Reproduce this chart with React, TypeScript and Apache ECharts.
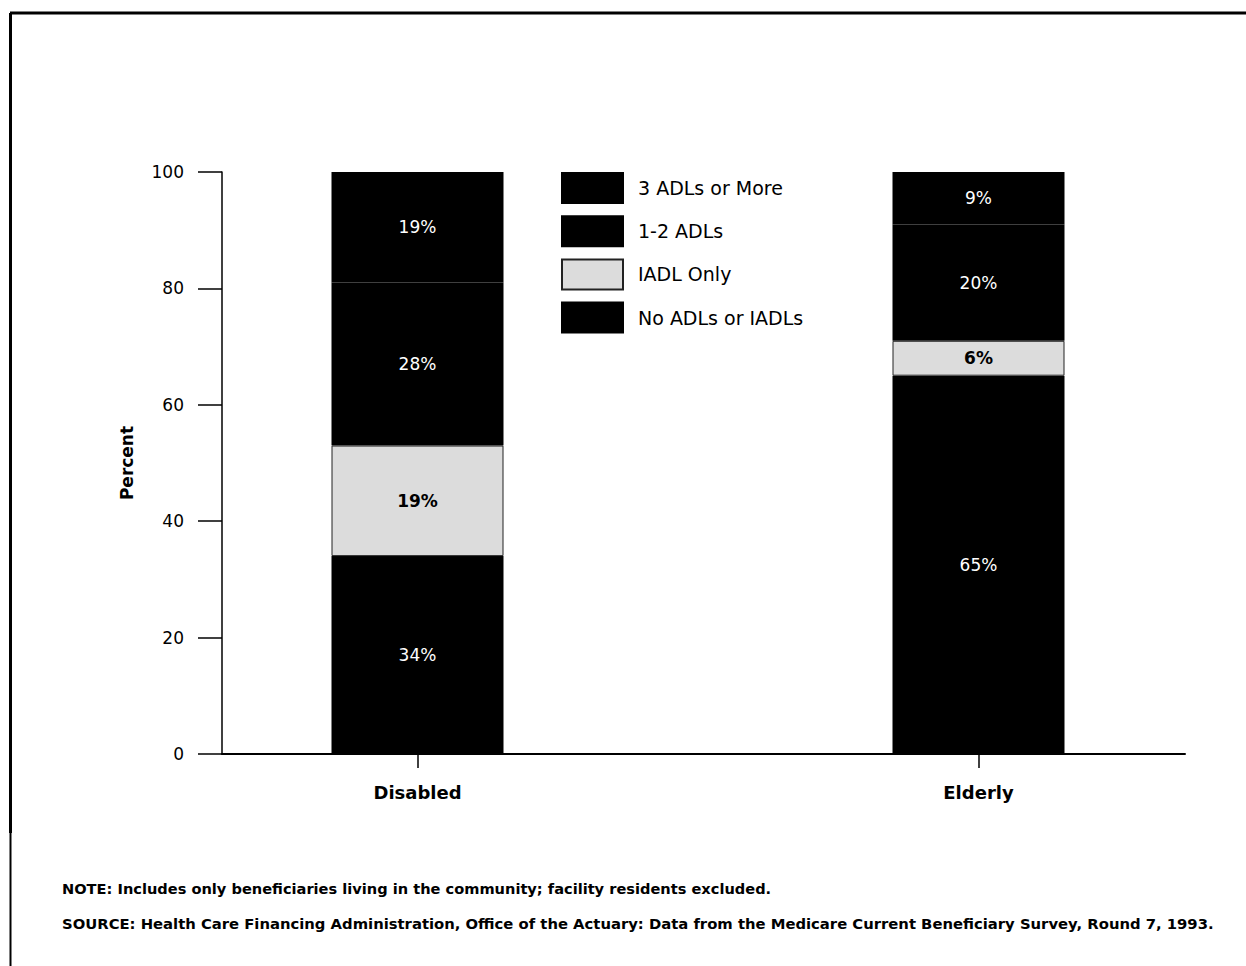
import React, { useEffect, useRef } from "react";
import * as echarts from "echarts";

const categories = ["Disabled", "Elderly"];
const seriesNames = ["No ADLs or IADLs", "IADL Only", "1-2 ADLs", "3 ADLs or More"];
const noAdls = [34, 65];
const iadlOnly = [19, 6];
const adls12 = [28, 20];
const adls3 = [19, 9];
const legendOrder = ["3 ADLs or More", "1-2 ADLs", "IADL Only", "No ADLs or IADLs"];
const yMin = 0;
const yMax = 100;
const yInterval = 20;
const noteText = "NOTE: Includes only beneficiaries living in the community; facility residents excluded.";
const sourceText =
  "SOURCE: Health Care Financing Administration, Office of the Actuary: Data from the Medicare Current Beneficiary Survey, Round 7, 1993.";

const FONT = "DejaVu Sans";
const CHART_W = 1300;

export default function App() {
  const ref = useRef<HTMLDivElement>(null);
  useEffect(() => {
    if (!ref.current) return;
    const chart = echarts.init(ref.current, null, { renderer: "svg" });
    const whiteLabel = {
      show: true,
      position: "inside",
      color: "#fff",
      fontFamily: FONT,
      fontSize: 17,
      formatter: (p: any) => `${p.value}%`,
    };
    const mk = (name: string, data: number[], isLight: boolean) => ({
      name,
      type: "bar",
      stack: "total",
      xAxisIndex: 1,
      yAxisIndex: 1,
      barWidth: 172,
      data,
      z: isLight ? 3 : 2,
      itemStyle: isLight
        ? {
            color: "#dcdcdc",
            borderColor: "#222",
            borderWidth: 1,
          }
        : { color: "#000", borderColor: "#000", borderWidth: 2 },
      label: isLight
        ? { ...whiteLabel, color: "#000", fontWeight: "bold" }
        : whiteLabel,
    });
    chart.setOption({
      animation: false,
      backgroundColor: "#fff",
      grid: [
        { left: 222, right: CHART_W - 1185, top: 172, bottom: 212 },
        { left: 137, right: CHART_W - 137 - 1122, top: 172, bottom: 212 },
      ],
      legend: {
        data: legendOrder,
        orient: "vertical",
        left: 561,
        top: 172,
        padding: 0,
        itemWidth: 61,
        itemHeight: 30,
        itemGap: 11.2,
        icon: "rect",
        textStyle: {
          fontFamily: FONT,
          fontSize: 19,
          lineHeight: 30,
          color: "#000",
          padding: [0, 0, 0, 10],
        },
      },
      xAxis: [
        {
          type: "value",
          gridIndex: 0,
          min: 0,
          max: 1,
          axisLine: { show: true, lineStyle: { color: "#000", width: 2 } },
          axisTick: { show: false },
          axisLabel: { show: false },
          splitLine: { show: false },
        },
        {
          type: "category",
          gridIndex: 1,
          data: categories,
          axisLine: { show: false },
          axisTick: { show: true, alignWithLabel: true, length: 14, lineStyle: { color: "#000", width: 1.5 } },
          axisLabel: { fontFamily: FONT, fontSize: 18, fontWeight: "bold", color: "#000", margin: 29 },
          splitLine: { show: false },
        },
      ],
      yAxis: [
        {
          type: "value",
          gridIndex: 0,
          min: yMin,
          max: yMax,
          interval: yInterval,
          name: "Percent",
          nameLocation: "middle",
          nameGap: 87,
          nameTextStyle: { fontFamily: FONT, fontSize: 17, fontWeight: "bold", color: "#000" },
          axisLine: { show: true, lineStyle: { color: "#000", width: 1.5 } },
          axisTick: { show: true, length: 24, lineStyle: { color: "#000", width: 1.5 } },
          axisLabel: { fontFamily: FONT, fontSize: 17, color: "#000", margin: 38 },
          splitLine: { show: false },
        },
        { type: "value", gridIndex: 1, min: yMin, max: yMax, show: false },
      ],
      series: [
        mk(seriesNames[0], noAdls, false),
        mk(seriesNames[1], iadlOnly, true),
        mk(seriesNames[2], adls12, false),
        mk(seriesNames[3], adls3, false),
      ],
      graphic: [
        { type: "line", shape: { x1: 10, y1: 13, x2: 1246, y2: 13 }, style: { stroke: "#000", lineWidth: 3 } },
        { type: "line", shape: { x1: 10.5, y1: 13, x2: 10.5, y2: 833 }, style: { stroke: "#000", lineWidth: 3 } },
        { type: "line", shape: { x1: 10.5, y1: 833, x2: 10.5, y2: 966 }, style: { stroke: "#000", lineWidth: 2 } },
        {
          type: "text",
          left: 62,
          top: 881,
          style: { text: noteText, fontFamily: FONT, fontSize: 14.6, fontWeight: "bold", fill: "#000" },
        },
        {
          type: "text",
          left: 62,
          top: 916,
          style: { text: sourceText, fontFamily: FONT, fontSize: 14.8, fontWeight: "bold", fill: "#000" },
        },
      ],
    });
    return () => chart.dispose();
  }, []);
  return (
    <div style={{ position: "absolute", left: 0, top: 0, width: 1246, height: 966, overflow: "hidden" }}>
      <div ref={ref} style={{ width: CHART_W, height: 966 }} />
    </div>
  );
}
